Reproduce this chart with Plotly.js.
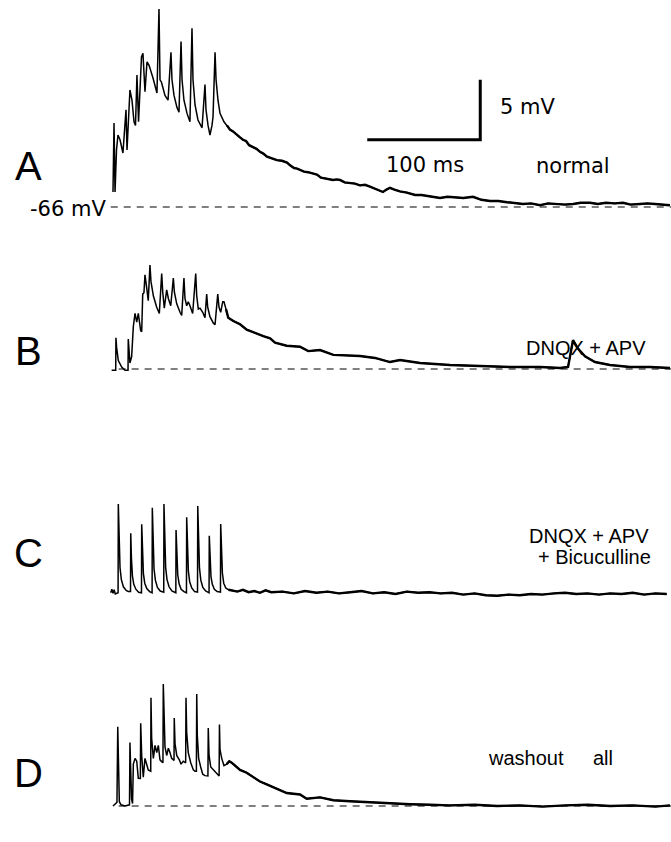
<!DOCTYPE html>
<html><head><meta charset="utf-8">
<script src="https://cdn.plot.ly/plotly-3.0.1.min.js"></script>
<style>html,body{margin:0;padding:0;background:#fff}#chart{width:671px;height:842px}</style>
</head><body><div id="chart"></div>
<script>
// ---- data (time in ms from first stimulus, membrane potential in mV above -66 mV) ----
const panelLetters = ['A', 'B', 'C', 'D'];
const restingLabel = '-66 mV';
const scaleLabels = ['5 mV', '100 ms'];
const conditionA = 'normal';
const conditionB = 'DNQX + APV';
const conditionC1 = 'DNQX + APV';
const conditionC2 = '+ Bicuculline';
const conditionD1 = 'washout';
const conditionD2 = 'all';

const scaleX = [225, 325, 325];
const scaleY = [5.6, 5.6, 10.6];

const tA = [0,0.9,1.8,3.1,4.4,6.2,8.8,11.5,12.4,13.7,15.0,16.8,18.6,19.9,21.2,22.6,23.9,25.2,26.5,27.4,28.3,30.1,31.9,35.4,38.9,40.7,41.2,41.6,42.9,44.2,46.0,48.7,51.3,52.2,54.0,56.6,58.4,60.2,61.1,62.8,65.5,68.1,69.9,70.8,72.6,75.2,78.8,81.4,82.3,84.1,85.8,87.6,88.5,90.3,91.2,92.9,94.7,98.2,100.9,
  103.5,106.2,109.0,112.4,115.0,117.7,120.5,123.9,127.0,130.1,133.0,136.3,140.5,145.1,149.5,154.0,157.0,160.2,163.0,165.5,169.0,172.6,176.5,180.5,184.0,187.6,191.0,194.7,198.0,200.9,205.0,209.7,214.0,218.6,223.0,227.4,233.0,238.9,242.0,245.1,249.0,254.0,260.0,267.3,273.0,278.8,284.0,289.4,296.0,302.7,310.0,318.6,326.0,333.6,341.0,348.7,355.0,362.8,370.0,377.9,385.0,392.0,400.0,407.1,414.0,422.1,429.0,436.3,444.0,451.3,458.0,466.4,473.0,479.6,486.0,492.9];
const vA = [1.25,7.0,1.25,4.75,6.0,5.6,4.5,8.1,4.75,7.25,9.75,8.9,7.1,6.8,11.0,7.1,10.6,12.5,12.8,11.4,9.6,12.1,11.8,10.75,9.5,16.5,12.8,10.6,10.4,9.9,9.3,8.9,12.9,10.6,9.3,8.3,7.9,13.8,10.6,8.9,7.8,7.1,14.9,10.6,8.5,7.25,6.6,10.2,8.1,6.8,6.0,6.8,7.5,12.9,10.6,8.9,7.8,7.1,6.8,
  6.45,6.3,6.05,5.8,5.6,5.5,5.15,5.0,4.85,4.6,4.45,4.2,4.05,3.9,3.85,3.7,3.45,3.25,3.2,3.1,2.95,2.9,2.8,2.7,2.45,2.4,2.35,2.25,2.3,2.25,2.05,2.0,1.95,1.8,1.85,1.7,1.5,1.25,1.45,1.6,1.45,1.3,1.2,1.0,1.0,0.9,0.85,0.75,0.85,0.8,0.75,0.85,0.6,0.5,0.5,0.4,0.35,0.25,0.3,0.15,0.3,0.25,0.2,0.25,0.35,0.35,0.25,0.35,0.3,0.35,0.2,0.25,0.3,0.25,0.2,0.15];

const tB = [-1.2,2.4,2.6,3.2,4.7,7.7,10.6,13.3,13.5,15.0,16.5,18.0,19.5,21.0,22.4,24.5,25.4,26.3,27.4,28.3,29.8,31.2,32.7,33.6,35.7,38.6,41.0,43.1,44.0,45.4,47.5,49.0,51.1,53.4,54.3,56.4,59.3,60.8,62.8,63.7,65.2,66.6,68.1,70.5,73.2,74.1,75.5,77.0,79.4,81.4,82.9,83.8,85.8,88.8,90.3,92.7,93.8,95.3,97.1,98.2,100.0,102.0,106.5,112.4,118.3,122.8,133.0,139.0,143.4,153.7,165.5,172.8,183.2,195.0,209.7,
  218.6,231.9,245.1,254.0,271.7,298.2,324.8,351.3,377.9,395.6,402.7,407.1,411.5,417.7,426.5,439.8,457.5,475.2,492.9];
const vB = [-0.1,-0.1,2.6,1.8,0.7,0.16,-0.1,-0.1,2.5,0.5,1.04,3.55,4.63,3.9,4.63,3.2,3.1,6.24,6.35,7.85,6.78,5.7,8.66,7.3,6.1,5.16,4.63,7.96,6.42,5.07,6.6,5.88,5.27,7.58,6.42,5.43,4.73,4.47,7.58,5.88,5.27,5.61,5.27,4.63,7.96,6.08,5.0,5.07,4.73,4.27,6.24,5.16,4.36,3.82,3.7,6.24,5.16,4.72,5.61,5.61,4.99,4.27,4.0,3.73,3.28,3.1,2.74,2.56,2.2,1.94,1.85,1.49,1.58,1.18,1.13,
  1.08,0.92,0.58,0.75,0.5,0.33,0.25,0.17,0.17,0.08,0.17,2.4,1.7,1.05,0.58,0.33,0.17,0.17,0.08];

const tC = [-2,-1,0,1,2,3.5,
  4.5,4.7,5.3,6.2,7.4,9.2,11.7,13.5,
  15.5,15.7,16.3,17.2,18.4,20.2,22.7,24.5,
  25.2,25.4,26.0,26.9,28.1,29.9,32.4,34.2,
  34.6,34.8,35.4,36.3,37.5,39.3,41.8,44.0,
  44.9,45.1,45.7,46.6,47.8,49.6,52.1,54.6,
  55.6,55.8,56.4,57.3,58.5,60.3,62.8,64.6,
  65.0,65.2,65.8,66.7,67.9,69.7,72.2,74.4,
  74.8,75.0,75.6,76.5,77.7,79.5,82.0,84.6,
  85.0,85.2,85.8,86.7,87.9,89.7,92.2,94.7,
  95.1,95.3,95.9,96.8,98.0,99.8,102.3,
  105,110,115,120,125,130,135,140,150,160,170,180,190,200,210,220,230,240,250,260,270,280,290,300,310,320,330,340,350,360,370,380,390,400,410,420,430,440,450,460,470,480,490];
const vC = [0.1,0.4,0.05,0.35,0.0,0.1,
  0.1,7.5,4.5,2.2,1.2,0.6,0.3,0.2,
  0.2,5.06,3.0,1.5,0.8,0.4,0.15,0.1,
  0.1,5.81,3.5,1.7,0.9,0.45,0.2,0.1,
  0.1,7.19,4.3,2.1,1.15,0.55,0.25,0.15,
  0.15,7.5,4.5,2.2,1.2,0.6,0.25,0.1,
  0.1,5.33,3.2,1.6,0.85,0.4,0.2,0.1,
  0.1,6.39,3.8,1.9,1.0,0.5,0.2,0.15,
  0.15,7.33,4.4,2.2,1.15,0.55,0.25,0.1,
  0.1,4.86,2.9,1.45,0.8,0.4,0.2,0.15,
  0.15,5.83,3.5,1.75,0.9,0.5,0.35,
  0.3,0.2,0.35,0.15,0.25,0.1,0.3,0.15,0.2,0.05,0.25,0.1,0.2,0.05,0.15,0.25,0.05,0.15,0.0,0.2,0.1,0.15,0.05,0.1,-0.05,0.05,-0.1,-0.15,-0.05,-0.1,0.0,-0.05,0.05,0.1,0.0,0.05,-0.05,0.05,0.0,0.1,-0.05,0.05,0.0];

const tD = [0,3.5,4.2,4.9,5.6,7.1,10.6,14.6,15.0,16.4,17.3,18.0,19.5,21.0,22.4,24.2,24.5,25.4,26.8,28.3,29.8,31.2,33.4,33.6,34.2,35.7,37.2,38.7,40.1,41.6,43.1,44.2,44.5,45.1,46.0,47.5,49.0,50.4,51.9,54.0,54.2,54.9,56.4,58.7,60.2,62.2,64.3,64.6,65.2,66.6,68.8,71.1,72.6,73.8,74.1,74.6,75.8,77.6,79.4,81.4,84.0,84.3,85.0,86.5,88.8,91.8,93.2,93.9,94.2,94.7,96.2,98.2,100.6,102.9,105.0,108.0,112.4,118.3,124.2,130.1,136.0,144.9,153.7,165.5,171.4,183.2,195.0,
  209.7,227.4,245.1,262.8,280.5,298.2,320,340,360,380,400,420,440,460,480,492.9];
const vD = [0.0,0.3,6.6,3.0,0.36,0.1,0.0,0.1,5.3,0.6,0.2,3.49,3.97,3.73,2.31,2.3,6.9,4.21,2.40,3.97,3.49,3.01,2.9,9.03,5.65,3.97,5.05,4.45,5.05,3.85,3.7,3.6,10.16,7.10,4.93,4.21,4.82,4.45,3.97,3.8,7.34,5.18,4.21,3.85,3.49,3.73,3.6,9.03,6.14,4.45,3.61,3.01,2.89,2.9,9.34,5.90,3.97,3.25,2.65,2.53,2.5,6.5,4.21,3.25,3.01,2.77,2.53,2.5,6.8,4.69,3.97,3.37,3.49,3.73,3.61,3.37,3.01,2.77,2.40,2.04,1.81,1.44,1.08,0.96,0.60,0.72,0.48,
  0.4,0.3,0.2,0.15,0.1,0.05,0.1,0.0,0.05,-0.05,0.05,0.1,0.0,0.05,-0.05,0.05];

// ---- layout geometry (pixels) ----
const W = 671, H = 842;
const x0px = 113, pxPerMs = 1.13, pxPerMv = 12;
const panels = [
  {t: tA, v: vA, base: 207, top: 0,   bot: 232, dashFrom: -2,  tail: 100},
  {t: tB, v: vB, base: 369, top: 240, bot: 452, dashFrom: 5,   tail: 100},
  {t: tC, v: vC, base: 594, top: 460, bot: 642, dashFrom: null, tail: 100},
  {t: tD, v: vD, base: 806, top: 650, bot: 842, dashFrom: 5,   tail: 100}
];
const xRange = [(0 - x0px) / pxPerMs, (W - x0px) / pxPerMs];

const data = [], shapes = [];
const layout = {
  width: W, height: H, margin: {l: 0, r: 0, t: 0, b: 0},
  paper_bgcolor: '#fff', plot_bgcolor: 'rgba(0,0,0,0)', showlegend: false,
  xaxis: {range: xRange, visible: false, fixedrange: true},
  annotations: [], shapes: shapes
};
panels.forEach((p, i) => {
  const yk = i === 0 ? 'y' : 'y' + (i + 1);
  const ak = i === 0 ? 'yaxis' : 'yaxis' + (i + 1);
  layout[ak] = {
    domain: [1 - p.bot / H, 1 - p.top / H],
    range: [(p.base - p.bot) / pxPerMv, (p.base - p.top) / pxPerMv],
    visible: false, fixedrange: true
  };
  data.push({x: p.t, y: p.v, xaxis: 'x', yaxis: yk, type: 'scatter', mode: 'lines',
    line: {color: '#000', width: 1.5}, hoverinfo: 'skip'});
  const tt = [], vv = [];
  p.t.forEach((t, k) => { if (t >= p.tail) { tt.push(t); vv.push(p.v[k]); } });
  data.push({x: tt, y: vv, xaxis: 'x', yaxis: yk, type: 'scatter', mode: 'lines',
    line: {color: '#000', width: 2.4}, hoverinfo: 'skip'});
  if (p.dashFrom !== null) {
    shapes.push({type: 'line', xref: 'x', yref: yk, x0: p.dashFrom, x1: xRange[1], y0: 0, y1: 0,
      line: {color: '#000', width: 1.2, dash: '7px,6px'}});
  }
});
data.push({x: scaleX, y: scaleY, xaxis: 'x', yaxis: 'y', type: 'scatter', mode: 'lines',
  line: {color: '#000', width: 3}, hoverinfo: 'skip'});

function txt(s, px, py, size, fam) {
  layout.annotations.push({text: s, xref: 'paper', yref: 'paper', x: px / W, y: 1 - py / H,
    xanchor: 'center', yanchor: 'middle', showarrow: false,
    font: {family: fam || 'Liberation Sans, Arial, sans-serif', size: size, color: '#000'}});
}
const wide = 'DejaVu Sans, sans-serif';
const letterY = [166, 351, 553, 773];
panelLetters.forEach((l, i) => txt(l, 28, letterY[i], 40));
txt(restingLabel, 68, 209, 21, wide);
txt(scaleLabels[0], 527, 107, 21, wide);
txt(scaleLabels[1], 425, 165, 21, wide);
txt(conditionA, 573, 166, 21, wide);
txt(conditionB, 586, 348, 20);
txt(conditionC1, 589, 536, 20);
txt(conditionC2, 594, 557, 20);
txt(conditionD1, 526, 758, 20);
txt(conditionD2, 603, 758, 20);

Plotly.newPlot('chart', data, layout, {staticPlot: true, displayModeBar: false});
</script></body></html>
